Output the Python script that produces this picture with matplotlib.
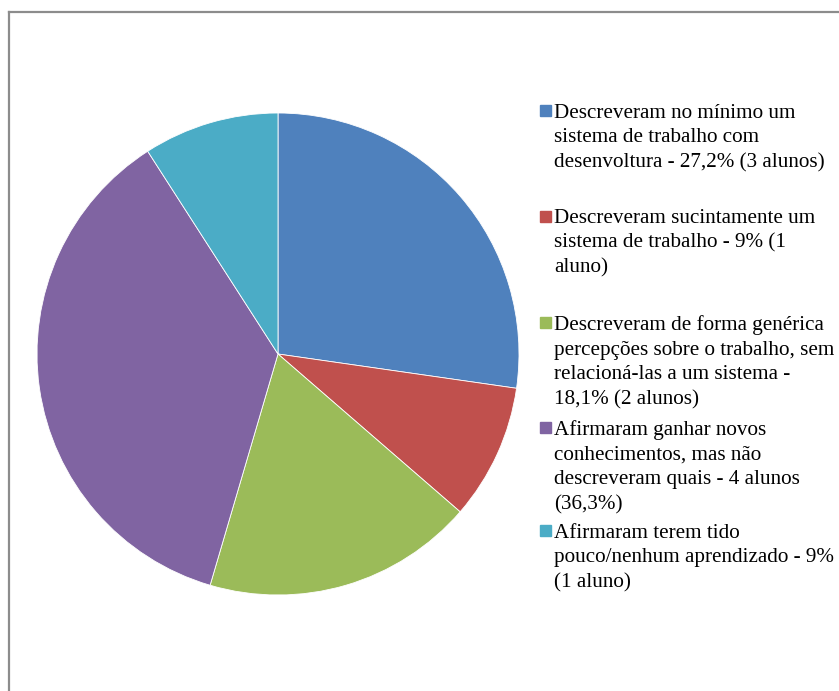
import matplotlib
matplotlib.use("Agg")
import matplotlib.pyplot as plt
from matplotlib.patches import Rectangle
from matplotlib.lines import Line2D

plt.rcParams['font.family'] = ['Liberation Serif', 'DejaVu Serif']

# respostas dos alunos (n = 11)
labels = [
    "Descreveram no mínimo um\nsistema de trabalho com\ndesenvoltura - 27,2% (3 alunos)",
    "Descreveram sucintamente um\nsistema de trabalho - 9% (1\naluno)",
    "Descreveram de forma genérica\npercepções sobre o trabalho, sem\nrelacioná-las a um sistema -\n18,1% (2 alunos)",
    "Afirmaram ganhar novos\nconhecimentos, mas não\ndescreveram quais - 4 alunos\n(36,3%)",
    "Afirmaram terem tido\npouco/nenhum aprendizado - 9%\n(1 aluno)",
]
alunos = [3, 1, 2, 4, 1]
cores = ["#4F81BD", "#C0504D", "#9BBB59", "#8064A2", "#4BACC6"]

W, H = 839, 691
fig = plt.figure(figsize=(W / 100, H / 100), dpi=100)
ax = fig.add_axes([0, 0, 1, 1])
ax.set_xlim(0, W)
ax.set_ylim(0, H)
ax.set_aspect('equal')
ax.axis('off')

ax.pie(alunos, colors=cores, startangle=90, counterclock=False,
       center=(278, H - 354), radius=241,
       wedgeprops=dict(edgecolor='white', linewidth=0.6))
ax.set_xlim(0, W)
ax.set_ylim(0, H)

# moldura da área do gráfico
ax.add_line(Line2D([8.5, 8.5], [0, H - 11.5], color='#8c8c8c', lw=1.6))
ax.add_line(Line2D([8.5, W], [H - 11.5, H - 11.5], color='#8c8c8c', lw=1.6))

# legenda
topos = [110.5, 216, 322, 427, 530.5]
for lab, cor, yc in zip(labels, cores, topos):
    ax.add_patch(Rectangle((540, H - yc - 5.5), 11, 11, color=cor))
    ax.text(554.5, H - yc + 7, lab, fontsize=15.2, va='top', ha='left',
            linespacing=1.4, color='black')

fig.savefig("out.png", dpi=100)
